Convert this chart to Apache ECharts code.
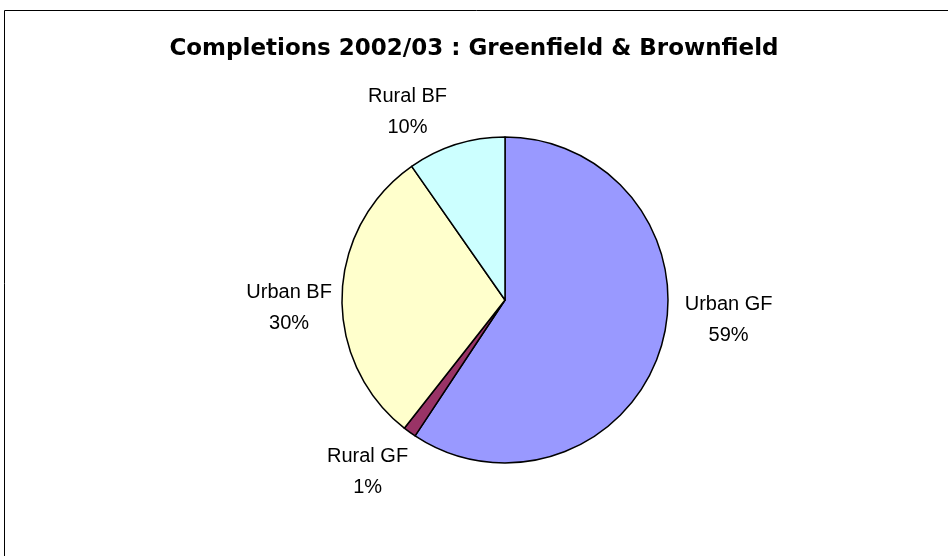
<!DOCTYPE html>
<html>
<head>
<meta charset="utf-8">
<script src="https://cdn.jsdelivr.net/npm/echarts@6/dist/echarts.min.js"></script>
<style>
  html, body { margin: 0; padding: 0; background: #fff; }
  #main { width: 948px; height: 556px; }
</style>
</head>
<body>
<div id="main"></div>
<script>
// data (clockwise from 12 o'clock)
var categories = ['Urban GF', 'Rural GF', 'Urban BF', 'Rural BF'];
var shares = [59.3, 1.3, 29.7, 9.7];
var colours = ['#9999FF', '#993366', '#FFFFCC', '#CCFFFF'];
// small nudges so the labels sit where Excel put them
var labelNudge = [[3, -30], [18, 30], [12, 13], [8, -21]];

var chart = echarts.init(document.getElementById('main'));

var pieData = categories.map(function (name, i) {
    return { name: name, value: shares[i], itemStyle: { color: colours[i] } };
});

var option = {
    animation: false,
    textStyle: { fontFamily: 'Liberation Sans, Arial, sans-serif' },
    graphic: [{
        type: 'rect',
        shape: { x: 4.5, y: 10.5, width: 1000, height: 600 },
        style: { fill: 'none', stroke: '#000', lineWidth: 1 },
        silent: true
    }],
    title: {
        text: 'Completions 2002/03 : Greenfield & Brownfield',
        left: 'center',
        top: 33,
        textStyle: {
            fontFamily: 'DejaVu Sans, sans-serif',
            fontSize: 23,
            fontWeight: 'bold',
            color: '#000'
        }
    },
    series: [{
        type: 'pie',
        center: [505, 300],
        radius: 163,
        startAngle: 90,
        clockwise: true,
        percentPrecision: 0,
        data: pieData,
        itemStyle: { borderColor: '#000', borderWidth: 1.5 },
        emphasis: { disabled: true },
        labelLine: { show: false, length: 12, length2: 0 },
        label: {
            position: 'outside',
            formatter: '{a|{b}}\n{a|{d}%}',
            rich: {
                a: {
                    fontFamily: 'Liberation Sans, Arial, sans-serif',
                    fontSize: 20,
                    color: '#000',
                    width: 96,
                    align: 'center',
                    lineHeight: 31
                }
            }
        },
        labelLayout: function (params) {
            var n = labelNudge[params.dataIndex];
            return { dx: n[0], dy: n[1] };
        }
    }]
};
chart.setOption(option);
</script>
</body>
</html>
